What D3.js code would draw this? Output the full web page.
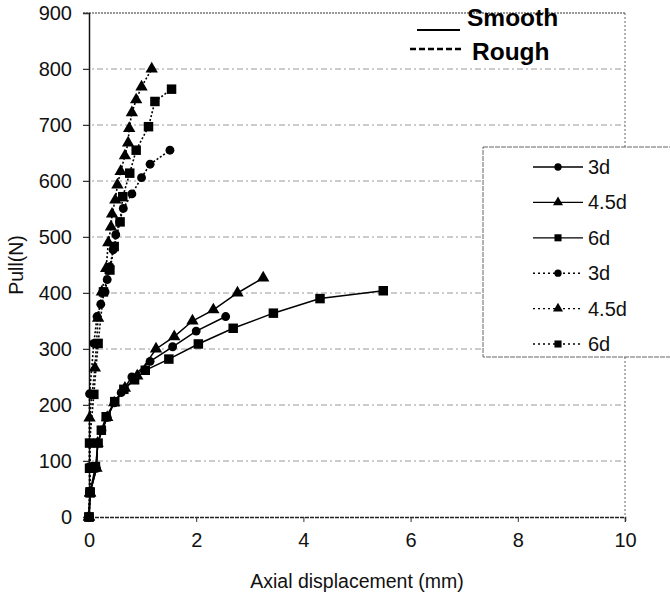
<!DOCTYPE html>
<html>
<head>
<meta charset="utf-8">
<script src="https://cdn.jsdelivr.net/npm/d3@7"></script>
<style>
  html, body { margin: 0; padding: 0; background: #fff; }
  svg { display: block; font-family: "Liberation Sans", Arial, sans-serif; }
</style>
</head>
<body>
<svg id="chart" width="670" height="596"></svg>
<script>
// Pull-out tests: pull force vs. axial displacement, smooth and rough bars
const xTicks = [0, 2, 4, 6, 8, 10];
const yTicks = [0, 100, 200, 300, 400, 500, 600, 700, 800, 900];

// Smooth surface
const smooth3dX = [0, 0.02, 0.14, 0.16, 0.24, 0.34, 0.47, 0.60, 0.80, 1.14, 1.56, 2.00, 2.55];
const smooth3dY = [0, 43, 87, 132, 155, 178, 204, 222, 250, 278, 304, 332, 358];
const smooth45dX = [0, 0.02, 0.14, 0.16, 0.34, 0.47, 0.67, 0.90, 1.25, 1.59, 1.93, 2.32, 2.77, 3.25];
const smooth45dY = [0, 43, 87, 132, 178, 204, 230, 252, 300, 322, 350, 370, 400, 427];
const smooth6dX = [0, 0.02, 0.12, 0.17, 0.23, 0.32, 0.48, 0.65, 0.85, 1.05, 1.49, 2.04, 2.69, 3.44, 4.31, 5.49];
const smooth6dY = [0, 45, 90, 132, 155, 179, 206, 228, 245, 262, 282, 309, 337, 364, 390, 404];

// Rough surface
const rough3dX = [0, 0.01, 0.01, 0.01, 0.01, 0.09, 0.15, 0.22, 0.30, 0.34, 0.39, 0.45, 0.50, 0.57, 0.64, 0.80, 0.98, 1.14, 1.51];
const rough3dY = [0, 45, 90, 132, 220, 310, 358, 380, 402, 424, 447, 477, 504, 527, 551, 577, 606, 630, 655];
const rough45dX = [0, 0.02, 0.01, 0.11, 0.17, 0.24, 0.32, 0.36, 0.41, 0.43, 0.49, 0.53, 0.59, 0.67, 0.73, 0.75, 0.80, 0.88, 0.98, 1.17];
const rough45dY = [0, 43, 177, 266, 355, 402, 444, 490, 518, 541, 566, 593, 617, 645, 668, 694, 722, 745, 768, 800];
const rough6dX = [0, 0.02, 0.01, 0.01, 0.09, 0.17, 0.27, 0.39, 0.47, 0.58, 0.63, 0.76, 0.88, 1.11, 1.23, 1.54];
const rough6dY = [0, 43, 87, 132, 219, 310, 402, 441, 483, 527, 572, 614, 655, 697, 742, 764];

const seriesNames = ["3d", "4.5d", "6d", "3d", "4.5d", "6d"];

const series = [
  { name: seriesNames[0], xs: smooth3dX, ys: smooth3dY, shape: d3.symbolCircle, dashed: false },
  { name: seriesNames[1], xs: smooth45dX, ys: smooth45dY, shape: d3.symbolTriangle, dashed: false },
  { name: seriesNames[2], xs: smooth6dX, ys: smooth6dY, shape: d3.symbolSquare, dashed: false },
  { name: seriesNames[3], xs: rough3dX, ys: rough3dY, shape: d3.symbolCircle, dashed: true },
  { name: seriesNames[4], xs: rough45dX, ys: rough45dY, shape: d3.symbolTriangle, dashed: true },
  { name: seriesNames[5], xs: rough6dX, ys: rough6dY, shape: d3.symbolSquare, dashed: true }
];

const symbolArea = new Map([[d3.symbolCircle, 62], [d3.symbolTriangle, 66], [d3.symbolSquare, 90]]);
const legendArea = new Map([[d3.symbolCircle, 42], [d3.symbolTriangle, 44], [d3.symbolSquare, 50]]);

const svg = d3.select("#chart");
const plotLeft = 89, plotRight = 625, plotTop = 13, plotBottom = 517;

const x = d3.scaleLinear().domain([0, 10]).range([plotLeft, plotRight]);
const y = d3.scaleLinear().domain([0, 900]).range([plotBottom, plotTop]);

// Horizontal grid lines
svg.append("g")
  .selectAll("line")
  .data(yTicks.filter(v => v > 0 && v < 900))
  .join("line")
  .attr("x1", plotLeft - 6).attr("x2", plotRight)
  .attr("y1", d => y(d)).attr("y2", d => y(d))
  .attr("stroke", "#9a9a9a").attr("stroke-width", 1)
  .attr("stroke-dasharray", "6,3,2,3");

// Top and right frame edges (dotted)
svg.append("line")
  .attr("x1", plotLeft - 6).attr("x2", plotRight)
  .attr("y1", y(900)).attr("y2", y(900))
  .attr("stroke", "#333").attr("stroke-width", 1.2).attr("stroke-dasharray", "2,1");
svg.append("line")
  .attr("x1", plotRight).attr("x2", plotRight)
  .attr("y1", y(900)).attr("y2", plotBottom + 5)
  .attr("stroke", "#666").attr("stroke-width", 1).attr("stroke-dasharray", "2,2");

// Axes
const yAxis = d3.axisLeft(y).tickValues(yTicks).tickSize(6).tickPadding(11).tickFormat(d3.format("d"));
const yg = svg.append("g").attr("transform", `translate(${plotLeft},0)`).call(yAxis);
yg.select(".domain").attr("stroke", "#111").attr("stroke-width", 1.5);
yg.selectAll(".tick line").attr("stroke", "#333");
yg.selectAll("text").attr("font-size", 20).attr("fill", "#111")
  .attr("font-family", "Liberation Sans, Arial, sans-serif");

const xAxis = d3.axisBottom(x).tickValues(xTicks).tickSize(5).tickPadding(11).tickFormat(d3.format("d"));
const xg = svg.append("g").attr("transform", `translate(0,${plotBottom})`).call(xAxis);
xg.select(".domain").attr("stroke", "#222").attr("stroke-width", 1.5).attr("stroke-dasharray", "4,1");
xg.selectAll(".tick line").attr("stroke", "#333");
xg.selectAll("text").attr("font-size", 20).attr("fill", "#111")
  .attr("font-family", "Liberation Sans, Arial, sans-serif");

// Axis titles
svg.append("text")
  .attr("x", (plotLeft + plotRight) / 2).attr("y", 588)
  .attr("text-anchor", "middle").attr("font-size", 19.5).attr("fill", "#111")
  .text("Axial displacement (mm)");
svg.append("text")
  .attr("transform", `translate(23,${(plotTop + plotBottom) / 2}) rotate(-90)`)
  .attr("text-anchor", "middle").attr("font-size", 19.5).attr("fill", "#111")
  .text("Pull(N)");

// Series
const line = d3.line().x(d => x(d[0])).y(d => y(d[1]));
const plot = svg.append("g");
[...series].reverse().forEach(s => {
  const pts = s.xs.map((v, i) => [v, s.ys[i]]);
  plot.append("path")
    .attr("d", line(pts))
    .attr("fill", "none").attr("stroke", "#000")
    .attr("stroke-width", s.dashed ? 1.6 : 1.5)
    .attr("stroke-dasharray", s.dashed ? "2,2" : null);
  plot.append("g").selectAll("path")
    .data(pts)
    .join("path")
    .attr("transform", d => `translate(${x(d[0])},${y(d[1])})`)
    .attr("d", d3.symbol(s.shape, symbolArea.get(s.shape)))
    .attr("fill", "#000");
});

// Series legend
const lg = svg.append("g");
lg.append("rect")
  .attr("x", 483).attr("y", 147).attr("width", 220).attr("height", 210)
  .attr("fill", "#fff").attr("stroke", "#666").attr("stroke-width", 1)
  .attr("stroke-dasharray", "5,1");
series.forEach((s, i) => {
  const ly = 167 + i * 35.4;
  lg.append("line")
    .attr("x1", 533).attr("x2", 583).attr("y1", ly).attr("y2", ly)
    .attr("stroke", "#000").attr("stroke-width", s.dashed ? 1.4 : 1.3)
    .attr("stroke-dasharray", s.dashed ? "2,3" : null);
  lg.append("path")
    .attr("transform", `translate(558,${ly})`)
    .attr("d", d3.symbol(s.shape, legendArea.get(s.shape)))
    .attr("fill", "#000");
  lg.append("text")
    .attr("x", 588).attr("y", ly + 7)
    .attr("font-size", 20).attr("fill", "#111")
    .text(s.name);
});

// Surface legend
svg.append("line")
  .attr("x1", 417).attr("x2", 460).attr("y1", 30).attr("y2", 30)
  .attr("stroke", "#000").attr("stroke-width", 2.2);
svg.append("line")
  .attr("x1", 410).attr("x2", 462).attr("y1", 49).attr("y2", 49)
  .attr("stroke", "#000").attr("stroke-width", 2.4).attr("stroke-dasharray", "6,3");
svg.append("text")
  .attr("x", 467).attr("y", 26).attr("font-size", 24.5).attr("font-weight", "bold").attr("fill", "#000")
  .text("Smooth");
svg.append("text")
  .attr("x", 472).attr("y", 60).attr("font-size", 24.5).attr("font-weight", "bold").attr("fill", "#000")
  .text("Rough");
</script>
</body>
</html>
